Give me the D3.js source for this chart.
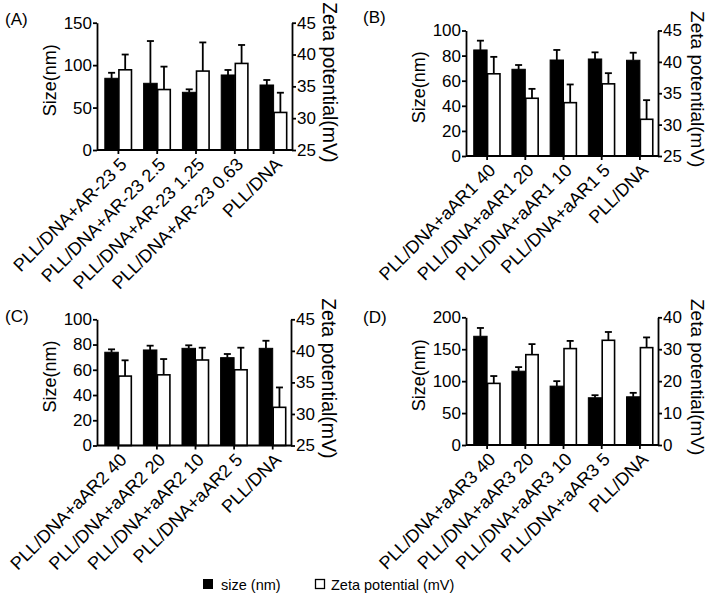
<!DOCTYPE html>
<html><head><meta charset="utf-8">
<script src="https://cdn.jsdelivr.net/npm/d3@7"></script>
<style>
body{margin:0;background:#fff;}
svg{display:block;font-family:"Liberation Sans",Arial,sans-serif;}
</style></head>
<body><svg id="c" width="709" height="595"></svg>
<script>
// ---- data ----
const panelLetters = ["(A)", "(B)", "(C)", "(D)"];
const catsA = ["PLL/DNA+AR-23 5", "PLL/DNA+AR-23 2.5", "PLL/DNA+AR-23 1.25", "PLL/DNA+AR-23 0.63", "PLL/DNA"];
const catsB = ["PLL/DNA+aAR1 40", "PLL/DNA+aAR1 20", "PLL/DNA+aAR1 10", "PLL/DNA+aAR1 5", "PLL/DNA"];
const catsC = ["PLL/DNA+aAR2 40", "PLL/DNA+aAR2 20", "PLL/DNA+aAR2 10", "PLL/DNA+aAR2 5", "PLL/DNA"];
const catsD = ["PLL/DNA+aAR3 40", "PLL/DNA+aAR3 20", "PLL/DNA+aAR3 10", "PLL/DNA+aAR3 5", "PLL/DNA"];

const sizeA = [84.5, 78.6, 68.0, 88.4, 76.6];
const sizeErrA = [6.5, 49.8, 3.5, 5.9, 5.9];
const zetaA = [37.6, 34.5, 37.4, 38.6, 30.9];
const zetaErrA = [2.4, 3.6, 4.5, 2.9, 3.1];

const sizeB = [84.5, 69.1, 76.5, 77.3, 76.3];
const sizeErrB = [7.4, 3.4, 8.0, 5.3, 6.0];
const zetaB = [38.1, 34.2, 33.5, 36.5, 30.85];
const zetaErrB = [2.7, 1.5, 2.9, 1.7, 3.05];

const sizeC = [73.9, 75.7, 77.0, 69.6, 77.0];
const sizeErrC = [2.3, 3.4, 2.4, 2.9, 6.0];
const zetaC = [36.0, 36.2, 38.55, 37.0, 31.05];
const zetaErrC = [2.5, 2.5, 1.95, 3.5, 3.15];

const sizeD = [170.3, 115.6, 92.2, 74.0, 75.5];
const sizeErrD = [13.0, 6.4, 7.8, 4.0, 6.2];
const zetaD = [19.3, 28.3, 30.2, 32.8, 30.5];
const zetaErrD = [2.3, 3.3, 2.4, 2.6, 3.2];

const sizeDomains = [[0, 150], [0, 100], [0, 100], [0, 200]];
const sizeTicks = [[0, 50, 100, 150], [0, 20, 40, 60, 80, 100], [0, 20, 40, 60, 80, 100], [0, 50, 100, 150, 200]];
const zetaDomains = [[25, 45], [25, 45], [25, 45], [0, 40]];
const zetaTicks = [[25, 30, 35, 40, 45], [25, 30, 35, 40, 45], [25, 30, 35, 40, 45], [0, 10, 20, 30, 40]];

const leftTitle = "Size(nm)";
const rightTitle = "Zeta potential(mV)";
const legendLabels = ["size (nm)", "Zeta potential (mV)"];

// ---- layout ----
const layout = [
  {L: 97, R: 292, T: 22.7, B: 150, lx: 5, ly: 25, rt: 31, rf: 19.5},
  {L: 466, R: 658, T: 30.5, B: 156, lx: 363, ly: 23, rt: 33, rf: 19},
  {L: 97, R: 291, T: 319.3, B: 445.5, lx: 5, ly: 322, rt: 31, rf: 19.5},
  {L: 466, R: 658, T: 317.3, B: 445, lx: 363, ly: 323, rt: 33, rf: 19}
];
const panels = [
  {cats: catsA, size: sizeA, sizeErr: sizeErrA, zeta: zetaA, zetaErr: zetaErrA},
  {cats: catsB, size: sizeB, sizeErr: sizeErrB, zeta: zetaB, zetaErr: zetaErrB},
  {cats: catsC, size: sizeC, sizeErr: sizeErrC, zeta: zetaC, zetaErr: zetaErrC},
  {cats: catsD, size: sizeD, sizeErr: sizeErrD, zeta: zetaD, zetaErr: zetaErrD}
];

const svg = d3.select("#c");
const SW = 1.8;
const tickFont = 17;

panels.forEach((p, i) => {
  const g = layout[i];
  const gp = svg.append("g");
  const x = d3.scaleBand().domain(p.cats).range([g.L + 2, g.R + 1]).paddingInner(0.3).paddingOuter(0.15);
  const x1 = d3.scaleBand().domain(["size", "zeta"]).range([0, x.bandwidth()]);
  const yL = d3.scaleLinear().domain(sizeDomains[i]).range([g.B, g.T]);
  const yR = d3.scaleLinear().domain(zetaDomains[i]).range([g.B, g.T]);

  const rows = p.cats.map((c, k) => ({c, s: p.size[k], se: p.sizeErr[k], z: p.zeta[k], ze: p.zetaErr[k]}));

  // error bars (behind bars)
  const capW = 3.5;
  rows.forEach(r => {
    const cxS = x(r.c) + x1("size") + x1.bandwidth() / 2;
    const cxZ = x(r.c) + x1("zeta") + x1.bandwidth() / 2;
    [[cxS, yL(r.s), yL(r.s + r.se)], [cxZ, yR(r.z), yR(r.z + r.ze)]].forEach(([cx, y0, y1]) => {
      gp.append("line").attr("x1", cx).attr("x2", cx).attr("y1", y0).attr("y2", y1)
        .attr("stroke", "#000").attr("stroke-width", SW);
      gp.append("line").attr("x1", cx - capW).attr("x2", cx + capW).attr("y1", y1).attr("y2", y1)
        .attr("stroke", "#000").attr("stroke-width", SW);
    });
  });

  // bars
  gp.selectAll(".bs").data(rows).join("rect")
    .attr("x", d => x(d.c) + x1("size")).attr("width", x1.bandwidth())
    .attr("y", d => yL(d.s)).attr("height", d => g.B - yL(d.s))
    .attr("fill", "#000").attr("stroke", "#000").attr("stroke-width", 1);
  gp.selectAll(".bz").data(rows).join("rect")
    .attr("x", d => x(d.c) + x1("zeta") + 0.5).attr("width", x1.bandwidth() - 1)
    .attr("y", d => yR(d.z)).attr("height", d => g.B - yR(d.z))
    .attr("fill", "#fff").attr("stroke", "#000").attr("stroke-width", 1.6);

  // axes
  const axL = gp.append("g").attr("transform", `translate(${g.L},0)`)
    .call(d3.axisLeft(yL).tickValues(sizeTicks[i]).tickSize(4).tickSizeOuter(0).tickPadding(1));
  const axR = gp.append("g").attr("transform", `translate(${g.R},0)`)
    .call(d3.axisRight(yR).tickValues(zetaTicks[i]).tickSize(4).tickSizeOuter(0).tickPadding(1));
  const axB = gp.append("g").attr("transform", `translate(0,${g.B})`)
    .call(d3.axisBottom(x).tickSize(4).tickSizeOuter(0));
  axB.select(".domain").attr("d", `M${g.L},0H${g.R}`);
  [axL, axR, axB].forEach(a => {
    a.selectAll("path,line").attr("stroke", "#000").attr("stroke-width", SW);
    a.selectAll("text").attr("fill", "#000").attr("font-size", tickFont).attr("font-family", null);
  });
  axB.selectAll("text")
    .attr("y", null).attr("x", null).attr("dy", "0.35em")
    .attr("font-size", 18)
    .attr("text-anchor", "end")
    .attr("transform", "translate(5,11) rotate(-45)");

  // titles
  gp.append("text").attr("transform", `translate(${g.L - 41},${(g.T + g.B) / 2 - 6}) rotate(-90)`)
    .attr("text-anchor", "middle").attr("font-size", 18).text(leftTitle);
  gp.append("text").attr("transform", `translate(${g.R + g.rt},${(g.T + g.B) / 2 - 4}) rotate(90)`)
    .attr("text-anchor", "middle").attr("font-size", g.rf).text(rightTitle);
  gp.append("text").attr("x", g.lx).attr("y", g.ly).attr("font-size", 17).text(panelLetters[i]);
});

// legend
const leg = svg.append("g");
leg.append("rect").attr("x", 203).attr("y", 579).attr("width", 10).attr("height", 10).attr("fill", "#000");
leg.append("text").attr("x", 221).attr("y", 590).attr("font-size", 14.5).text(legendLabels[0]);
leg.append("rect").attr("x", 315.5).attr("y", 579.5).attr("width", 9).attr("height", 9).attr("fill", "#fff").attr("stroke", "#000").attr("stroke-width", 1.3);
leg.append("text").attr("x", 331).attr("y", 590).attr("font-size", 14.5).text(legendLabels[1]);
</script>
</body></html>
